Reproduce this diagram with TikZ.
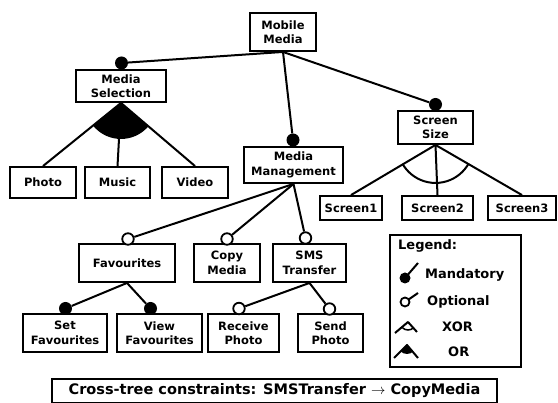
\documentclass[tikz,border=0pt]{standalone}
\usepackage{fontspec}
\setmainfont{DejaVu Sans}
\begin{document}
\begin{tikzpicture}[x=1pt,y=-1pt,
  box/.style={draw, line width=1.9pt, fill=white, align=center, inner sep=0pt, font=\fontsize{11.5}{14.5}\selectfont\bfseries},
  edge/.style={line width=2pt},
  mand/.style={circle, fill=black, minimum size=13pt, inner sep=0pt},
  opt/.style={circle, draw, fill=white, line width=1.8pt, minimum size=11.5pt, inner sep=0pt},
  lgtext/.style={anchor=west, inner sep=0pt, font=\fontsize{13}{15}\selectfont\bfseries}]
\useasboundingbox[fill=white] (0,0) rectangle (558,403);

% feature boxes
\node[box, minimum width=66pt, minimum height=38pt] (mm) at (283,32) {Mobile\\Media};
\node[box, minimum width=90pt, minimum height=32pt] (ms) at (121,86) {Media\\Selection};
\node[box, minimum width=66pt, minimum height=31pt] (photo) at (43,182.5) {Photo};
\node[box, minimum width=65pt, minimum height=31pt] (music) at (117.5,182.5) {Music};
\node[box, minimum width=66pt, minimum height=31pt] (video) at (195,182.5) {Video};
\node[box, minimum width=99pt, minimum height=36pt] (mmg) at (293.5,165) {Media\\Management};
\node[box, minimum width=75pt, minimum height=33pt] (ss) at (435.5,127.5) {Screen\\Size};
\node[box, minimum width=62pt, minimum height=24pt] (s1) at (351,208) {Screen1};
\node[box, minimum width=71pt, minimum height=24pt] (s2) at (437.5,208) {Screen2};
\node[box, minimum width=68pt, minimum height=24pt] (s3) at (522,208) {Screen3};
\node[box, minimum width=96pt, minimum height=38pt] (fav) at (127,263) {Favourites};
\node[box, minimum width=66pt, minimum height=38pt] (copy) at (227,263) {Copy\\Media};
\node[box, minimum width=73pt, minimum height=38pt] (sms) at (309.5,263) {SMS\\Transfer};
\node[box, minimum width=84pt, minimum height=38pt] (setf) at (65,333) {Set\\Favourites};
\node[box, minimum width=85pt, minimum height=38pt] (viewf) at (159.5,333) {View\\Favourites};
\node[box, minimum width=71pt, minimum height=38pt] (recv) at (243.5,333) {Receive\\Photo};
\node[box, minimum width=65pt, minimum height=38pt] (send) at (330.5,333) {Send\\Photo};

% markers
\node[mand] (cms) at (121.5,63) {};
\node[mand] (cmmg) at (293,140) {};
\node[mand] (css) at (435.5,104.5) {};
\node[opt] (cfav) at (128,239) {};
\node[opt] (ccopy) at (227,239) {};
\node[opt] (csms) at (305.5,238) {};
\node[mand] (csetf) at (65.5,308.5) {};
\node[mand] (cviewf) at (150.5,308.5) {};
\node[opt] (crecv) at (239,308.5) {};
\node[opt] (csend) at (329.5,309) {};

% connectors
\draw[edge] (mm.south) -- (cms);
\draw[edge] (mm.south) -- (cmmg);
\draw[edge] (mm.south) -- (css);
\draw[edge] (ms.south) -- (photo.north);
\draw[edge] (ms.south) -- (music.north);
\draw[edge] (ms.south) -- (video.north);
\draw[edge] (mmg.south) -- (cfav);
\draw[edge] (mmg.south) -- (ccopy);
\draw[edge] (mmg.south) -- (csms);
\draw[edge] (ss.south) -- (s1.north);
\draw[edge] (ss.south) -- (s2.north);
\draw[edge] (ss.south) -- (s3.north);
\draw[edge] (fav.south) -- (csetf);
\draw[edge] (fav.south) -- (cviewf);
\draw[edge] (sms.south) -- (crecv);
\draw[edge] (sms.south) -- (csend);

% OR group (filled)
\begin{scope}
\clip (ms.south) -- (photo.north) -- (video.north) -- cycle;
\fill (ms.south) circle (36pt);
\end{scope}
% XOR group (open arc)
\begin{scope}
\clip (ss.south) -- (s1.north) -- (s3.north) -- cycle;
\draw[edge] (ss.south) circle (38pt);
\end{scope}

% legend
\node[draw, line width=1.9pt, minimum width=131pt, minimum height=132pt, inner sep=0pt] (legend) at (455.5,301) {};
\node[lgtext] (lgt) at (398,246) {Legend:};
\node[lgtext] (lgm) at (425,275) {Mandatory};
\node[lgtext] (lgo) at (427,302) {Optional};
\node[lgtext] (lgx) at (442,327) {XOR};
\node[lgtext] (lgor) at (448,352) {OR};
\draw[edge] (405,278) -- (418,263);
\fill (405,278) circle (5.5pt);
\draw[edge] (405,302) -- (418,293);
\draw[line width=1.8pt, fill=white] (405,302) circle (4.5pt);
\draw[edge, line join=round] (395,333) -- (408,322) -- (417,332);
\begin{scope}
\clip (408,322) -- (395,333) -- (417,332) -- cycle;
\draw[line width=1.5pt] (408,322) circle (8pt);
\end{scope}
\draw[edge, line join=round] (394,358) -- (407,345) -- (418,358);
\begin{scope}
\clip (407,345) -- (394,358) -- (418,358) -- cycle;
\fill (407,345) circle (9pt);
\end{scope}

% cross-tree constraints
\node[draw, line width=1.9pt, minimum width=445pt, minimum height=24pt, inner sep=0pt,
  font=\fontsize{14.5}{16}\selectfont\bfseries] (ct) at (274.5,391)
  {Cross-tree constraints: SMSTransfer $\rightarrow$ CopyMedia};
\end{tikzpicture}
\end{document}
